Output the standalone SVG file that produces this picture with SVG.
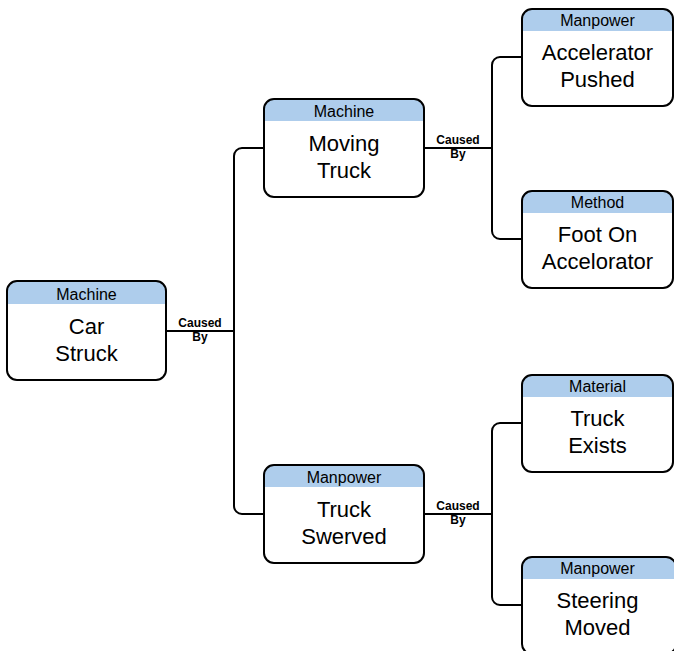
<svg xmlns="http://www.w3.org/2000/svg" width="674" height="651" viewBox="0 0 674 651">
<style>
.body{fill:#ffffff;stroke:none}
.hdr{fill:#aecdec;stroke:none}
.frame{fill:none;stroke:#000;stroke-width:2}
.htxt{font-family:"Liberation Sans",Arial,sans-serif;font-size:16px;fill:#000;text-anchor:middle}
.mtxt{font-family:"Liberation Sans",Arial,sans-serif;font-size:22px;fill:#000;text-anchor:middle}
.lbl{font-family:"Liberation Sans",Arial,sans-serif;font-size:12px;font-weight:bold;fill:#000;text-anchor:middle}
.conn{fill:none;stroke:#000;stroke-width:2}
</style>
<rect width="674" height="651" fill="#ffffff"/>
<g id="connectors">
<path class="conn" d="M166 331 H234"/>
<path class="conn" d="M264 148 H242 A8 8 0 0 0 234 156 V506 A8 8 0 0 0 242 514 H264"/>
<path class="conn" d="M424 148 H492"/>
<path class="conn" d="M522 57 H500 A8 8 0 0 0 492 65 V231 A8 8 0 0 0 500 239 H522"/>
<path class="conn" d="M424 514 H492"/>
<path class="conn" d="M522 423 H500 A8 8 0 0 0 492 431 V597 A8 8 0 0 0 500 605 H522"/>
<text class="lbl" x="200" y="327">Caused</text>
<text class="lbl" x="200" y="341">By</text>
<text class="lbl" x="458" y="144">Caused</text>
<text class="lbl" x="458" y="158">By</text>
<text class="lbl" x="458" y="510">Caused</text>
<text class="lbl" x="458" y="524">By</text>
</g>
<g id="car-struck">
<rect class="body" x="7" y="281" width="159" height="99" rx="10"/>
<path class="hdr" d="M7 304 V291 A10 10 0 0 1 17 281 H156 A10 10 0 0 1 166 291 V304 Z"/>
<rect class="frame" x="7" y="281" width="159" height="99" rx="10"/>
<text class="htxt" x="86.5" y="300">Machine</text>
<text class="mtxt" x="86.5" y="334">Car</text>
<text class="mtxt" x="86.5" y="361">Struck</text>
</g>
<g id="moving-truck">
<rect class="body" x="264" y="99" width="160" height="98" rx="10"/>
<path class="hdr" d="M264 121 V109 A10 10 0 0 1 274 99 H414 A10 10 0 0 1 424 109 V121 Z"/>
<rect class="frame" x="264" y="99" width="160" height="98" rx="10"/>
<text class="htxt" x="344" y="117">Machine</text>
<text class="mtxt" x="344" y="151">Moving</text>
<text class="mtxt" x="344" y="178">Truck</text>
</g>
<g id="truck-swerved">
<rect class="body" x="264" y="465" width="160" height="98" rx="10"/>
<path class="hdr" d="M264 487 V475 A10 10 0 0 1 274 465 H414 A10 10 0 0 1 424 475 V487 Z"/>
<rect class="frame" x="264" y="465" width="160" height="98" rx="10"/>
<text class="htxt" x="344" y="483">Manpower</text>
<text class="mtxt" x="344" y="517">Truck</text>
<text class="mtxt" x="344" y="544">Swerved</text>
</g>
<g id="accelerator-pushed">
<rect class="body" x="522" y="9" width="151" height="97" rx="10"/>
<path class="hdr" d="M522 31 V19 A10 10 0 0 1 532 9 H663 A10 10 0 0 1 673 19 V31 Z"/>
<rect class="frame" x="522" y="9" width="151" height="97" rx="10"/>
<text class="htxt" x="597.5" y="26">Manpower</text>
<text class="mtxt" x="597.5" y="60">Accelerator</text>
<text class="mtxt" x="597.5" y="87">Pushed</text>
</g>
<g id="foot-on-accelerator">
<rect class="body" x="522" y="191" width="151" height="97" rx="10"/>
<path class="hdr" d="M522 213 V201 A10 10 0 0 1 532 191 H663 A10 10 0 0 1 673 201 V213 Z"/>
<rect class="frame" x="522" y="191" width="151" height="97" rx="10"/>
<text class="htxt" x="597.5" y="208">Method</text>
<text class="mtxt" x="597.5" y="242">Foot On</text>
<text class="mtxt" x="597.5" y="269">Accelorator</text>
</g>
<g id="truck-exists">
<rect class="body" x="522" y="375" width="151" height="97" rx="10"/>
<path class="hdr" d="M522 397 V385 A10 10 0 0 1 532 375 H663 A10 10 0 0 1 673 385 V397 Z"/>
<rect class="frame" x="522" y="375" width="151" height="97" rx="10"/>
<text class="htxt" x="597.5" y="392">Material</text>
<text class="mtxt" x="597.5" y="426">Truck</text>
<text class="mtxt" x="597.5" y="453">Exists</text>
</g>
<g id="steering-moved">
<rect class="body" x="522" y="557" width="154" height="97" rx="10"/>
<path class="hdr" d="M522 579 V567 A10 10 0 0 1 532 557 H666 A10 10 0 0 1 676 567 V579 Z"/>
<rect class="frame" x="522" y="557" width="154" height="97" rx="10"/>
<text class="htxt" x="597.5" y="574">Manpower</text>
<text class="mtxt" x="597.5" y="608">Steering</text>
<text class="mtxt" x="597.5" y="635">Moved</text>
</g>
</svg>
